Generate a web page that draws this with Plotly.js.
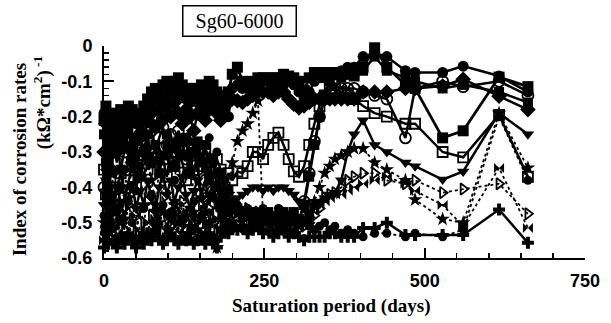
<!DOCTYPE html>
<html>
<head>
<meta charset="utf-8">
<script src="https://cdn.plot.ly/plotly-3.0.1.min.js"></script>
<style>html,body{margin:0;padding:0;background:#fff;}#chart{width:611px;height:323px;}</style>
</head>
<body>
<div id="chart"></div>
<script>
// Saturation days (shared measurement dates)
const days = [0,3,6,10,15,20,26,32,38,44,50,56,62,68,74,80,86,92,98,104,110,116,122,128,134,140,146,152,158,164,170,176,182,188,194,200,
  208,216,224,232,240,248,256,264,272,280,288,296,304,312,320,328,336,344,352,360,
  370,380,390,404,422,441,470,485,528,560,616,661];

const sqA = [-0.21,-0.17,-0.22,-0.20,-0.19,-0.20,-0.18,-0.19,-0.17,-0.18,-0.20,-0.19,-0.17,-0.15,-0.13,-0.12,-0.14,-0.11,-0.10,-0.12,-0.10,-0.09,-0.11,-0.13,-0.12,-0.12,-0.14,-0.11,-0.12,-0.10,-0.11,-0.13,-0.14,-0.15,-0.13,-0.08,
  -0.06,-0.10,-0.11,-0.10,-0.09,-0.09,-0.09,-0.09,-0.09,-0.08,-0.085,-0.09,-0.10,-0.125,-0.09,-0.075,-0.075,-0.075,-0.075,-0.075,
  -0.08,-0.08,-0.085,-0.06,-0.005,-0.06,-0.11,-0.12,-0.26,-0.24,-0.088,-0.115];
const circA = [-0.19,-0.25,-0.20,-0.23,-0.21,-0.24,-0.22,-0.20,-0.22,-0.19,-0.22,-0.21,-0.20,-0.18,-0.17,-0.15,-0.13,-0.15,-0.14,-0.12,-0.13,-0.12,-0.14,-0.15,-0.16,-0.13,-0.15,-0.14,-0.16,-0.13,-0.15,-0.17,-0.16,-0.18,-0.20,-0.12,
  -0.11,-0.12,-0.12,-0.12,-0.11,-0.10,-0.10,-0.11,-0.12,-0.11,-0.10,-0.11,-0.13,-0.15,-0.13,-0.10,-0.09,-0.09,-0.08,-0.08,
  -0.07,-0.06,-0.06,-0.03,-0.02,-0.03,-0.07,-0.075,-0.075,-0.057,-0.085,-0.13];
const diamA = [-0.30,-0.22,-0.35,-0.28,-0.25,-0.30,-0.27,-0.24,-0.29,-0.33,-0.26,-0.22,-0.25,-0.21,-0.19,-0.23,-0.18,-0.21,-0.17,-0.20,-0.16,-0.19,-0.22,-0.18,-0.20,-0.24,-0.19,-0.17,-0.21,-0.18,-0.16,-0.19,-0.21,-0.17,-0.16,-0.15,
  -0.155,-0.16,-0.15,-0.14,-0.13,-0.13,-0.13,-0.14,-0.13,-0.13,-0.15,-0.165,-0.175,-0.17,-0.16,-0.15,-0.15,-0.15,-0.15,-0.15,
  -0.15,-0.15,-0.15,-0.13,-0.13,-0.13,-0.12,-0.12,-0.113,-0.094,-0.142,-0.18];
const openCirc = [-0.40,-0.30,-0.45,-0.35,-0.28,-0.33,-0.26,-0.30,-0.27,-0.32,-0.29,-0.25,-0.31,-0.27,-0.24,-0.30,-0.26,-0.23,-0.28,-0.25,-0.30,-0.24,-0.27,-0.32,-0.26,-0.29,-0.35,-0.42,-0.38,-0.45,-0.41,-0.47,-0.44,-0.48,-0.46,-0.47,
  -0.48,-0.47,-0.49,-0.48,-0.50,-0.49,-0.48,-0.50,-0.49,-0.50,-0.51,-0.49,-0.50,-0.44,-0.36,-0.27,-0.20,-0.15,-0.13,-0.11,
  -0.12,-0.12,-0.12,-0.13,-0.14,-0.15,-0.26,-0.12,-0.10,-0.115,-0.10,-0.14];
const openSq = [-0.35,-0.42,-0.33,-0.38,-0.45,-0.40,-0.36,-0.43,-0.38,-0.34,-0.40,-0.36,-0.31,-0.35,-0.30,-0.33,-0.29,-0.32,-0.37,-0.30,-0.34,-0.28,-0.33,-0.38,-0.31,-0.36,-0.30,-0.34,-0.29,-0.33,-0.37,-0.32,-0.35,-0.40,-0.36,-0.38,
  -0.355,-0.36,-0.34,-0.30,-0.30,-0.32,-0.28,-0.26,-0.245,-0.28,-0.32,-0.355,-0.37,-0.34,-0.28,-0.22,-0.17,-0.14,-0.12,-0.12,
  -0.13,-0.14,-0.15,-0.17,-0.19,-0.20,-0.22,-0.22,-0.30,-0.315,-0.195,-0.37];
const triDown = [-0.45,-0.38,-0.50,-0.42,-0.47,-0.40,-0.44,-0.49,-0.43,-0.39,-0.46,-0.41,-0.45,-0.38,-0.43,-0.47,-0.40,-0.36,-0.42,-0.38,-0.44,-0.40,-0.37,-0.42,-0.46,-0.41,-0.38,-0.43,-0.47,-0.42,-0.39,-0.44,-0.41,-0.45,-0.42,-0.44,
  -0.43,-0.42,-0.41,-0.40,-0.40,-0.41,-0.40,-0.41,-0.40,-0.40,-0.41,-0.42,-0.44,-0.46,-0.47,-0.45,-0.44,-0.43,-0.42,-0.415,
  -0.38,-0.30,-0.25,-0.21,-0.28,-0.30,-0.33,-0.34,-0.378,-0.355,-0.19,-0.25];
const starA = [-0.50,-0.45,-0.55,-0.48,-0.52,-0.46,-0.50,-0.44,-0.40,-0.35,-0.30,-0.27,-0.26,-0.32,-0.38,-0.45,-0.50,-0.47,-0.52,-0.49,-0.45,-0.50,-0.53,-0.48,-0.51,-0.47,-0.52,-0.49,-0.53,-0.50,-0.55,-0.57,-0.52,-0.48,-0.42,-0.33,
  -0.27,-0.24,-0.22,-0.19,-0.155,-0.48,-0.50,-0.49,-0.51,-0.50,-0.49,-0.50,-0.51,-0.50,-0.49,-0.44,-0.40,-0.36,-0.34,-0.32,
  -0.31,-0.30,-0.29,-0.29,-0.33,-0.35,-0.38,-0.435,-0.49,-0.50,-0.19,-0.345];
const bowA = [-0.55,-0.50,-0.53,-0.47,-0.51,-0.55,-0.49,-0.53,-0.50,-0.54,-0.48,-0.52,-0.55,-0.50,-0.53,-0.49,-0.46,-0.51,-0.54,-0.48,-0.52,-0.50,-0.47,-0.53,-0.49,-0.52,-0.48,-0.50,-0.53,-0.47,-0.51,-0.49,-0.52,-0.50,-0.48,-0.50,
  -0.52,-0.49,-0.51,-0.50,-0.52,-0.48,-0.50,-0.52,-0.49,-0.51,-0.50,-0.52,-0.51,-0.50,-0.48,-0.46,-0.45,-0.44,-0.43,-0.42,
  -0.42,-0.41,-0.40,-0.39,-0.38,-0.37,-0.39,-0.41,-0.45,-0.51,-0.345,-0.515];
const arrowA = [-0.52,-0.47,-0.43,-0.50,-0.46,-0.41,-0.47,-0.52,-0.45,-0.49,-0.53,-0.46,-0.50,-0.44,-0.48,-0.52,-0.47,-0.43,-0.48,-0.51,-0.46,-0.49,-0.44,-0.50,-0.47,-0.53,-0.49,-0.45,-0.50,-0.46,-0.49,-0.52,-0.47,-0.50,-0.46,-0.48,
  -0.47,-0.49,-0.46,-0.48,-0.47,-0.49,-0.48,-0.50,-0.48,-0.47,-0.49,-0.48,-0.50,-0.51,-0.50,-0.48,-0.46,-0.43,-0.42,-0.415,
  -0.40,-0.38,-0.37,-0.36,-0.36,-0.38,-0.39,-0.38,-0.415,-0.405,-0.39,-0.475];
const plusA = [-0.57,-0.53,-0.56,-0.52,-0.55,-0.57,-0.54,-0.56,-0.53,-0.55,-0.57,-0.54,-0.56,-0.53,-0.55,-0.52,-0.54,-0.56,-0.55,-0.53,-0.55,-0.56,-0.54,-0.55,-0.53,-0.56,-0.55,-0.54,-0.56,-0.53,-0.55,-0.57,-0.54,-0.52,-0.53,-0.51,
  -0.52,-0.51,-0.53,-0.52,-0.51,-0.53,-0.52,-0.54,-0.53,-0.52,-0.54,-0.53,-0.54,-0.55,-0.54,-0.54,-0.54,-0.54,-0.53,-0.53,
  -0.54,-0.54,-0.54,-0.515,-0.515,-0.50,-0.535,-0.535,-0.535,-0.535,-0.463,-0.557];
const sqB = [-0.25,-0.33,-0.28,-0.22,-0.30,-0.26,-0.35,-0.29,-0.24,-0.31,-0.27,-0.37,-0.30,-0.25,-0.33,-0.28,-0.36,-0.31,-0.25,-0.29,-0.34,-0.27,-0.31,-0.26,-0.36,-0.30,-0.27,-0.33,-0.28,-0.38,-0.32,-0.40,-0.36,-0.43,-0.41,-0.45,
  -0.46,-0.47,-0.48,-0.47,-0.49,-0.48,-0.47,-0.49,-0.48,-0.47,-0.48,-0.47,-0.49,-0.45,-0.37,-0.28,-0.20,-0.14,-0.10,-0.08,
  -0.09,-0.08,-0.08,-0.07,-0.03,-0.07,-0.09,-0.10,-0.12,-0.11,-0.13,-0.16];
const circB = [-0.48,-0.38,-0.52,-0.42,-0.36,-0.47,-0.40,-0.35,-0.44,-0.50,-0.41,-0.34,-0.46,-0.29,-0.42,-0.50,-0.33,-0.45,-0.28,-0.47,-0.38,-0.30,-0.49,-0.36,-0.27,-0.44,-0.31,-0.48,-0.35,-0.26,-0.43,-0.30,-0.46,-0.38,-0.50,-0.44,
  -0.45,-0.47,-0.46,-0.48,-0.47,-0.46,-0.47,-0.48,-0.46,-0.47,-0.48,-0.47,-0.49,-0.50,-0.51,-0.52,-0.51,-0.50,-0.52,-0.51,
  -0.53,-0.52,-0.53,-0.54,-0.53,-0.53,-0.54,-0.53,-0.54,-0.52,-0.20,-0.38];

const yTicks = [0,-0.1,-0.2,-0.3,-0.4,-0.5,-0.6];
const yTickText = ['0','-0.1','-0.2','-0.3','-0.4','-0.5','-0.6'];
const xTicks = [0,250,500,750];
const xTickText = ['0','250','500','750'];

function tr(y, symbol, size, dash, lw, mlw) {
  return {
    x: days, y: y, type: 'scatter', mode: 'lines+markers', cliponaxis: false,
    line: {color: 'black', width: lw, dash: dash},
    marker: {symbol: symbol, size: size, color: 'black', line: {color: 'black', width: mlw}}
  };
}

const data = [
  tr(plusA, 'cross', 10, 'solid', 2.5, 0),
  tr(arrowA, 'triangle-right-open', 10, 'dot', 1.8, 1.8),
  tr(bowA, 'bowtie', 10, 'dot', 1.8, 0),
  tr(circB, 'circle', 9, 'dot', 1.8, 0),
  tr(starA, 'star', 11, 'dot', 1.8, 0),
  tr(triDown, 'triangle-down', 11, 'solid', 2.5, 0),
  tr(openSq, 'square-open', 10, 'solid', 2.5, 1.8),
  tr(openCirc, 'circle-open', 11, 'solid', 2.5, 1.8),
  tr(sqB, 'square', 10, 'solid', 2.5, 0),
  tr(diamA, 'diamond', 12, 'solid', 2.5, 0),
  tr(circA, 'circle', 11, 'solid', 2.5, 0),
  tr(sqA, 'square', 11, 'solid', 2.8, 0)
];

const tickFont = {family: 'Liberation Sans, Arial, sans-serif', size: 18, weight: 'bold', color: 'black'};
const titleFont = {family: 'Liberation Serif, Times New Roman, serif', size: 19, weight: 'bold', color: 'black'};

const layout = {
  width: 611, height: 323,
  margin: {l: 104, r: 26, t: 46, b: 65, pad: 0},
  paper_bgcolor: 'white', plot_bgcolor: 'white',
  showlegend: false,
  xaxis: {
    range: [0, 750], tickmode: 'array', tickvals: xTicks, ticktext: xTickText,
    ticks: 'inside', ticklen: 10, tickwidth: 2, tickcolor: 'black',
    showline: true, linewidth: 2, linecolor: 'black', showgrid: false, zeroline: false,
    tickfont: tickFont, ticklabelstandoff: 5,
    minor: {tickmode: 'linear', tick0: 0, dtick: 50, ticks: 'inside', ticklen: 5, tickwidth: 1.5, tickcolor: 'black', showgrid: false}
  },
  yaxis: {
    range: [-0.6, 0], tickmode: 'array', tickvals: yTicks, ticktext: yTickText,
    ticks: 'inside', ticklen: 10, tickwidth: 2, tickcolor: 'black',
    showline: true, linewidth: 2, linecolor: 'black', showgrid: false, zeroline: false,
    tickfont: tickFont, ticklabelstandoff: 6,
    minor: {tickmode: 'linear', tick0: 0, dtick: 0.02, ticks: 'inside', ticklen: 5, tickwidth: 1.5, tickcolor: 'black', showgrid: false}
  },
  annotations: [
    {text: 'Sg60-6000', xref: 'paper', yref: 'paper', x: 0.2817, y: 1.1158, xanchor: 'center', yanchor: 'middle',
     showarrow: false, font: {family: 'Liberation Serif, Times New Roman, serif', size: 20, color: 'black'},
     bordercolor: 'black', borderwidth: 1.5, borderpad: 3, width: 106, height: 23, bgcolor: 'white'},
    {text: 'Index of corrosion rates', xref: 'paper', yref: 'paper', x: (19 - 104) / 481, y: (257.5 - 160) / 211.5,
     xanchor: 'center', yanchor: 'middle', textangle: -90, showarrow: false, font: titleFont},
    {text: '(kΩ*cm<sup>2</sup>)<sup> -1</sup>', xref: 'paper', yref: 'paper', x: (42 - 104) / 481, y: (257.5 - 103) / 211.5,
     xanchor: 'center', yanchor: 'middle', textangle: -90, showarrow: false, font: titleFont},
    {text: 'Saturation period (days)', xref: 'paper', yref: 'paper', x: (330.5 - 104) / 481, y: (257.5 - 305) / 211.5,
     xanchor: 'center', yanchor: 'middle', showarrow: false, font: titleFont}
  ]
};

Plotly.newPlot('chart', data, layout, {staticPlot: true, displayModeBar: false});
</script>
</body>
</html>
